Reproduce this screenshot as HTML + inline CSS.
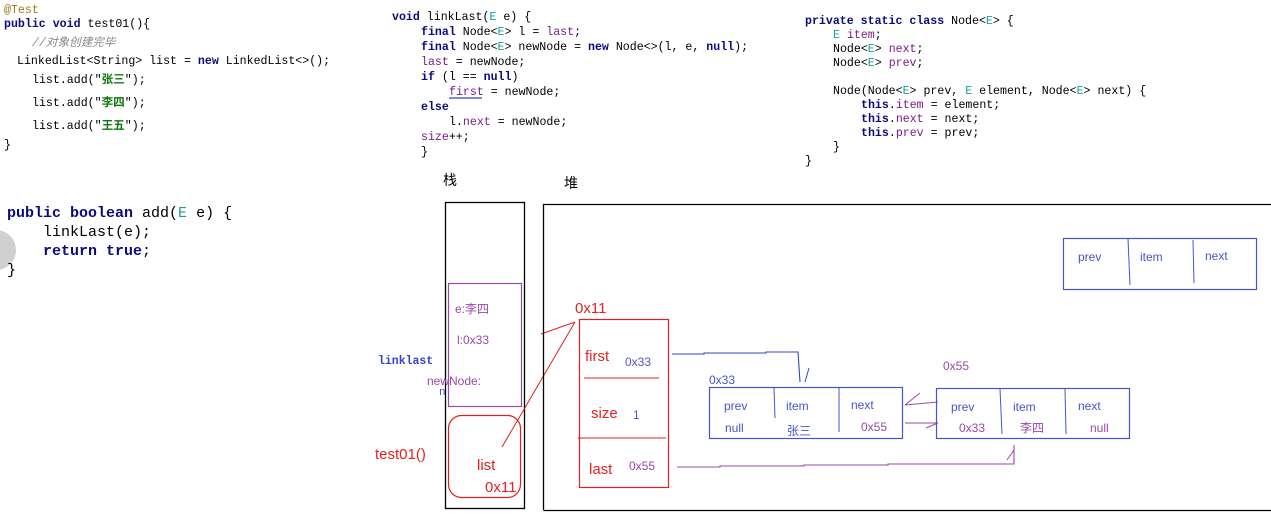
<!DOCTYPE html>
<html><head><meta charset="utf-8"><style>
html,body{margin:0;padding:0;background:#fff;width:1271px;height:515px;overflow:hidden}
svg{display:block}
.m{font-family:"Liberation Mono","Noto Sans CJK SC",monospace;font-size:11.6px;fill:#000}
.k{fill:#0a0a80;font-weight:bold}
.f{fill:#7a1a8a}
.t{fill:#1aa0a0}
.g{fill:#117711;font-weight:bold}
.s{font-family:"Liberation Sans","Noto Sans CJK SC",sans-serif}
</style></head><body>
<svg width="1271" height="515" xmlns="http://www.w3.org/2000/svg">
<circle cx="-4" cy="250" r="20" fill="#d0d0d0"/>
<g class="m">
<text x="4" y="13" style="fill:#9a7a10">@Test</text>
<text x="4" y="27"><tspan class="k">public void</tspan> test01(){</text>
<text x="32" y="46" style="fill:#888;font-style:italic">//对象创建完毕</text>
<text x="17" y="64">LinkedList&lt;String&gt; list = <tspan class="k">new</tspan> LinkedList&lt;&gt;();</text>
<text x="32" y="83">list.add("<tspan class="g">张三</tspan>");</text>
<text x="32" y="106">list.add("<tspan class="g">李四</tspan>");</text>
<text x="32" y="129">list.add("<tspan class="g">王五</tspan>");</text>
<text x="4" y="148">}</text>
</g>
<g class="m" style="font-size:15px">
<text x="7" y="217"><tspan class="k">public boolean</tspan> add(<tspan class="t">E</tspan> e) {</text>
<text x="43" y="236">linkLast(e);</text>
<text x="43" y="255"><tspan class="k">return true</tspan>;</text>
<text x="7" y="274">}</text>
</g>
<g class="m">
<text x="392" y="20"><tspan class="k">void</tspan> linkLast(<tspan class="t">E</tspan> e) {</text>
<text x="421" y="35"><tspan class="k">final</tspan> Node&lt;<tspan class="t">E</tspan>&gt; l = <tspan class="f">last</tspan>;</text>
<text x="421" y="50"><tspan class="k">final</tspan> Node&lt;<tspan class="t">E</tspan>&gt; newNode = <tspan class="k">new</tspan> Node&lt;&gt;(l, e, <tspan class="k">null</tspan>);</text>
<text x="421" y="65"><tspan class="f">last</tspan> = newNode;</text>
<text x="421" y="80"><tspan class="k">if</tspan> (l == <tspan class="k">null</tspan>)</text>
<text x="449" y="95"><tspan class="f">first</tspan> = newNode;</text>
<text x="421" y="110"><tspan class="k">else</tspan></text>
<text x="449" y="125">l.<tspan class="f">next</tspan> = newNode;</text>
<text x="421" y="140"><tspan class="f">size</tspan>++;</text>
<text x="421" y="155">}</text>
</g>
<line x1="449" y1="98" x2="482" y2="98" stroke="#3344bb" stroke-width="1.2"/>
<g class="m">
<text x="805" y="24"><tspan class="k">private static class</tspan> Node&lt;<tspan class="t">E</tspan>&gt; {</text>
<text x="833" y="38"><tspan class="t">E</tspan> <tspan class="f">item</tspan>;</text>
<text x="833" y="52">Node&lt;<tspan class="t">E</tspan>&gt; <tspan class="f">next</tspan>;</text>
<text x="833" y="66">Node&lt;<tspan class="t">E</tspan>&gt; <tspan class="f">prev</tspan>;</text>
<text x="833" y="94">Node(Node&lt;<tspan class="t">E</tspan>&gt; prev, <tspan class="t">E</tspan> element, Node&lt;<tspan class="t">E</tspan>&gt; next) {</text>
<text x="861" y="108"><tspan class="k">this</tspan>.<tspan class="f">item</tspan> = element;</text>
<text x="861" y="122"><tspan class="k">this</tspan>.<tspan class="f">next</tspan> = next;</text>
<text x="861" y="136"><tspan class="k">this</tspan>.<tspan class="f">prev</tspan> = prev;</text>
<text x="833" y="150">}</text>
<text x="805" y="164">}</text>
</g>
<text class="s" x="443" y="185" font-size="14">栈</text>
<text class="s" x="564" y="188" font-size="14">堆</text>
<rect x="445.5" y="202.5" width="79" height="306" fill="none" stroke="#000" stroke-width="1.3"/>
<rect x="448.5" y="283.5" width="73" height="123" fill="none" stroke="#9a4aa8" stroke-width="1.2"/>
<text class="s" x="455" y="313" font-size="12" fill="#9a4aa8">e:李四</text>
<text class="s" x="457" y="344" font-size="12" fill="#9a4aa8">l:0x33</text>
<text class="s" x="427" y="385" font-size="12" fill="#9a4aa8">newNode:</text>
<text class="m" x="439" y="395" style="fill:#4455cc;font-size:11px">n</text>
<text class="m" x="378" y="364" style="fill:#3344cc;font-weight:bold;font-size:11.5px">linklast</text>
<rect x="448.5" y="415.5" width="72" height="82" rx="13" fill="none" stroke="#e02020" stroke-width="1.2"/>
<text class="s" x="477" y="470" font-size="15" fill="#e82020">list</text>
<text class="s" x="485" y="492" font-size="15" fill="#e82020">0x11</text>
<text class="s" x="375" y="459" font-size="15" fill="#e82020">test01()</text>
<line x1="502" y1="447" x2="575" y2="322" stroke="#e02020" stroke-width="1"/>
<line x1="541" y1="334" x2="575" y2="322" stroke="#e02020" stroke-width="1"/>
<path d="M543.5 510 V204.5 H1271" fill="none" stroke="#000" stroke-width="1.3"/>
<line x1="543.5" y1="510.5" x2="1271" y2="510.5" stroke="#000" stroke-width="1.3"/>
<text class="s" x="575" y="313" font-size="15" fill="#e82020">0x11</text>
<rect x="579.5" y="319.5" width="89" height="168" fill="none" stroke="#e02020" stroke-width="1.2"/>
<line x1="584" y1="378" x2="659" y2="378" stroke="#e02020"/>
<line x1="578" y1="438" x2="666" y2="438" stroke="#e02020"/>
<text class="s" x="585" y="361" font-size="15" fill="#e82020">first</text>
<text class="s" x="625" y="366" font-size="12" fill="#5555cc">0x33</text>
<text class="s" x="591" y="418" font-size="15" fill="#e82020">size</text>
<text class="s" x="633" y="419" font-size="12" fill="#5555cc">1</text>
<text class="s" x="589" y="474" font-size="15" fill="#e82020">last</text>
<text class="s" x="629" y="470" font-size="12" fill="#9a4aa8">0x55</text>
<path d="M672 354 L704 354 L704 353 L766 353 L766 352 L798 352 L800 382" fill="none" stroke="#3344cc" stroke-width="1.1"/>
<line x1="805" y1="382" x2="809" y2="368" stroke="#3344cc"/>
<path d="M677 467 L720 467 L720 466 L804 466 L804 465 L888 465 L888 464 L1014 464 L1014 445" fill="none" stroke="#9a4aa8" stroke-width="1.1"/>
<line x1="1007" y1="460" x2="1014" y2="450" stroke="#9a4aa8"/>
<line x1="905" y1="405" x2="938" y2="402" stroke="#9a4aa8"/>
<line x1="905" y1="405" x2="920" y2="393" stroke="#9a4aa8"/>
<line x1="905" y1="423" x2="938" y2="423" stroke="#9a4aa8"/>
<line x1="926" y1="428" x2="938" y2="423" stroke="#9a4aa8"/>
<text class="s" x="709" y="384" font-size="12" fill="#4455cc">0x33</text>
<rect x="709.5" y="387.5" width="193" height="51" fill="none" stroke="#4455cc" stroke-width="1.2"/>
<line x1="774" y1="388" x2="775" y2="418" stroke="#4455cc"/>
<line x1="839" y1="388" x2="839" y2="432" stroke="#4455cc"/>
<text class="s" x="724" y="410" font-size="12" fill="#4455cc">prev</text>
<text class="s" x="786" y="410" font-size="12" fill="#4455cc">item</text>
<text class="s" x="851" y="409" font-size="12" fill="#4455cc">next</text>
<text class="s" x="725" y="432" font-size="12" fill="#4455cc">null</text>
<text class="s" x="787" y="435" font-size="12" fill="#4455cc">张三</text>
<text class="s" x="861" y="431" font-size="12" fill="#9a4aa8">0x55</text>
<text class="s" x="943" y="370" font-size="12" fill="#9a4aa8">0x55</text>
<rect x="936.5" y="388.5" width="193" height="50" fill="none" stroke="#4455cc" stroke-width="1.2"/>
<line x1="1000" y1="389" x2="1002" y2="434" stroke="#4455cc"/>
<line x1="1065" y1="389" x2="1066" y2="434" stroke="#4455cc"/>
<text class="s" x="951" y="411" font-size="12" fill="#4455cc">prev</text>
<text class="s" x="1013" y="411" font-size="12" fill="#4455cc">item</text>
<text class="s" x="1078" y="410" font-size="12" fill="#4455cc">next</text>
<text class="s" x="959" y="432" font-size="12" fill="#9a4aa8">0x33</text>
<text class="s" x="1020" y="432" font-size="12" fill="#9a4aa8">李四</text>
<text class="s" x="1090" y="432" font-size="12" fill="#9a4aa8">null</text>
<rect x="1063.5" y="238.5" width="193" height="51" fill="none" stroke="#4455cc" stroke-width="1.2"/>
<line x1="1128" y1="239" x2="1130" y2="285" stroke="#4455cc"/>
<line x1="1193" y1="240" x2="1194" y2="283" stroke="#4455cc"/>
<text class="s" x="1078" y="261" font-size="12" fill="#4455cc">prev</text>
<text class="s" x="1140" y="261" font-size="12" fill="#4455cc">item</text>
<text class="s" x="1205" y="260" font-size="12" fill="#4455cc">next</text>
</svg>
</body></html>
